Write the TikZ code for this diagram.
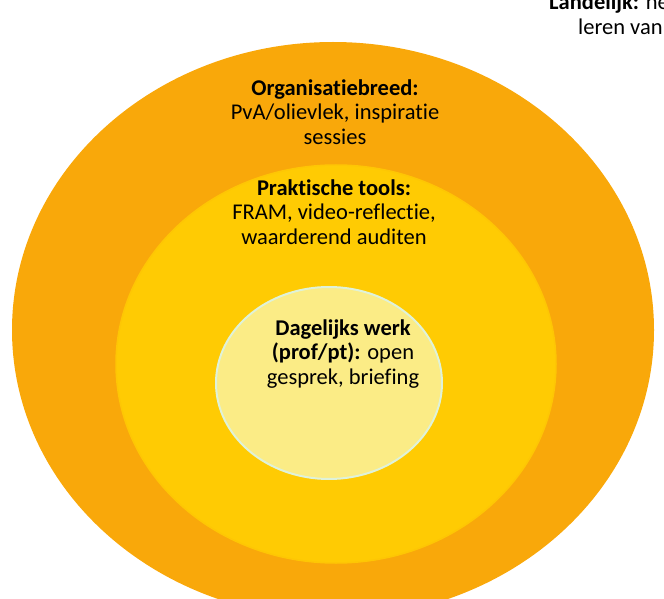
\documentclass[tikz,border=0pt]{standalone}
\usepackage{fontspec}
\setmainfont{Carlito}[Ligatures={NoCommon}]
\usetikzlibrary{backgrounds,shapes.geometric}
\pgfdeclarelayer{edgelayer}
\pgfdeclarelayer{nodelayer}
\pgfsetlayers{edgelayer,nodelayer,main}
\definecolor{ringorange}{HTML}{F9A80A}
\definecolor{ringyellow}{HTML}{FFCB03}
\definecolor{ringlight}{HTML}{FBEC86}
\definecolor{ringedge}{HTML}{DFF2D9}
\tikzset{font=\fontsize{22.5}{24.5}\selectfont}
\tikzstyle{none}=[inner sep=0pt]
\tikzstyle{label}=[inner sep=0pt,align=center,text=black]
\tikzstyle{ring outer}=[ellipse,fill=ringorange,inner sep=0pt,minimum width=642pt,minimum height=576pt]
\tikzstyle{ring mid}=[ellipse,fill=ringyellow,draw=ringyellow!85!ringorange,line width=1.5pt,inner sep=0pt,minimum width=440pt,minimum height=398pt]
\tikzstyle{ring core}=[ellipse,fill=ringlight,draw=ringedge,line width=2pt,inner sep=0pt,minimum width=226pt,minimum height=192pt]

\begin{document}
\begin{tikzpicture}[x=1pt,y=-1pt]
	\useasboundingbox (0,0) rectangle (664,599);
	\clip (0,0) rectangle (664,599);
	\begin{pgfonlayer}{edgelayer}
		\node [style=ring outer] (0) at (333, 330) {};
		\node [style=ring mid] (1) at (336, 364) {};
		\node [style=ring core] (2) at (329, 383) {};
	\end{pgfonlayer}
	\begin{pgfonlayer}{nodelayer}
		\node [style=label] (3) at (335, 112) {\textbf{Organisatiebreed:}\\PvA/olievlek, inspiratie\\sessies};
		\node [style=label] (4) at (334, 212) {\textbf{Praktische tools:}\\FRAM, video-reflectie,\\waarderend auditen};
		\node [style=label] (5) at (343, 354) {\textbf{Dagelijks werk}\\\textbf{(prof/pt):} open\\gesprek, briefing};
		\node [style=none, anchor=base west] (6) at (549, 10) {\textbf{Landelijk:} ne};
		\node [style=none, anchor=base west] (7) at (578, 34.5) {leren van};
	\end{pgfonlayer}
\end{tikzpicture}
\end{document}
